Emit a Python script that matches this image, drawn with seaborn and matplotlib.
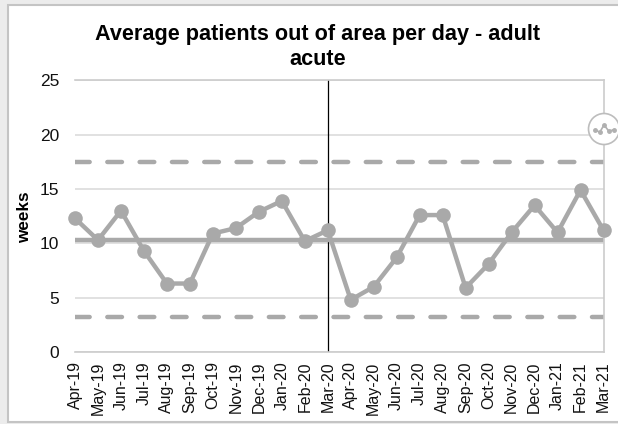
import matplotlib
matplotlib.use("Agg")
import matplotlib.pyplot as plt
import pandas as pd
import seaborn as sns
from matplotlib.patches import Circle, Rectangle

months = ["Apr-19", "May-19", "Jun-19", "Jul-19", "Aug-19", "Sep-19", "Oct-19", "Nov-19",
          "Dec-19", "Jan-20", "Feb-20", "Mar-20", "Apr-20", "May-20", "Jun-20", "Jul-20",
          "Aug-20", "Sep-20", "Oct-20", "Nov-20", "Dec-20", "Jan-21", "Feb-21", "Mar-21"]
patients = [12.3, 10.3, 13.0, 9.3, 6.3, 6.3, 10.9, 11.4, 12.9, 13.9, 10.2, 11.2,
            4.8, 6.0, 8.7, 12.6, 12.6, 5.9, 8.1, 11.0, 13.5, 11.0, 14.9, 11.2]
mean_line = 10.3
upper_limit = 17.5
lower_limit = 3.2
y_ticks = [0, 5, 10, 15, 20, 25]
split_month = "Mar-20"

GREY = "#a9a9a9"
W, H = 618, 424

sns.set_style("white")
plt.rcParams["font.family"] = ["Liberation Sans", "DejaVu Sans"]

df = pd.DataFrame({"month": months, "patients": patients})
df["pos"] = range(len(df))

fig = plt.figure(figsize=(W / 100, H / 100), dpi=100, facecolor="#ececec")
# white card behind the chart
fig.add_artist(Rectangle((8 / W, 1 - 422 / H), 620 / W, 417 / H, transform=fig.transFigure,
                         facecolor="white", edgecolor="#c4c4c4", linewidth=1.5, zorder=-5))

ax = fig.add_axes([75 / W, 1 - 352 / H, (603.5 - 75) / W, (352 - 80.3) / H], facecolor="none")

ax.yaxis.grid(True, color="#dcdcdc", linewidth=1.2)
ax.set_axisbelow(True)

split = df.loc[df["month"] == split_month, "pos"].iloc[0]
ax.axvline(split, color="black", linewidth=0.9, zorder=2)

ax.axhline(mean_line, color=GREY, linewidth=3.2, zorder=2)
for lim in [upper_limit, lower_limit]:
    ax.axhline(lim, color=GREY, linewidth=3.2, linestyle=(0, (3.3, 3.97)),
               dash_capstyle="round", zorder=2)

sns.lineplot(data=df, x="pos", y="patients", ax=ax, color=GREY, linewidth=3.2,
             marker="o", markersize=10.5, markeredgewidth=0, clip_on=False, zorder=3)

ax.set_xlim(0, len(months) - 1)
ax.set_ylim(0, 25)
ax.set_yticks(y_ticks)
ax.set_xticks(df["pos"])
ax.set_xticklabels(months, rotation=90, ha="center", va="top")
ax.tick_params(axis="y", length=0, pad=11.5, labelsize=12.5, labelcolor="#111111")
ax.tick_params(axis="x", length=0, pad=6.7, labelsize=11.5, labelcolor="#111111")
ax.set_xlabel("")
ax.set_ylabel("")

for side in ["top", "bottom", "right"]:
    ax.spines[side].set_color("#cccccc")
    ax.spines[side].set_linewidth(1.2)
ax.spines["left"].set_visible(False)

fig.text(24.5 / W, 1 - 217 / H, "weeks", rotation=90, ha="center", va="center",
         fontsize=12.3, fontweight="bold", color="black")
fig.text(318 / W, 1 - 47 / H, "Average patients out of area per day - adult\nacute",
         ha="center", va="center", fontsize=15.6, fontweight="bold", color="black",
         linespacing=1.2)

# little chart-type badge sitting on the right edge
badge = fig.add_axes([586 / W, 1 - 147 / H, 36 / W, 36 / H], facecolor="none")
badge.set_xlim(0, 36)
badge.set_ylim(36, 0)
badge.axis("off")
badge.add_patch(Circle((18, 18), 15.5, facecolor="white", edgecolor="#bdbdbd", linewidth=1.2))
badge.plot([9.3, 13.7, 18, 23, 27.7], [18.7, 21.3, 14, 20.3, 18.7], color="#b0b0b0",
           linewidth=1.2, marker="o", markersize=2.5)

fig.savefig("out.png", dpi=100, facecolor=fig.get_facecolor())
